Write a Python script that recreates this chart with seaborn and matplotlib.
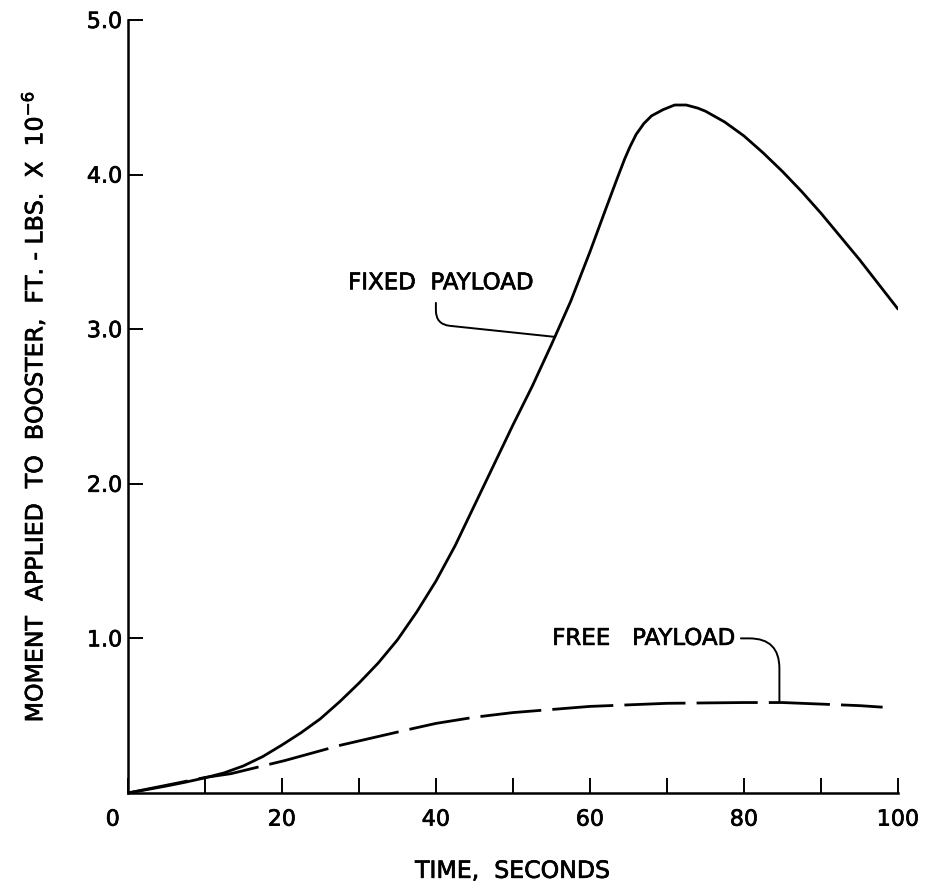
import matplotlib
matplotlib.use("Agg")
import matplotlib.pyplot as plt
import matplotlib.patheffects as pe
import matplotlib.transforms as mtransforms
import seaborn as sns
import pandas as pd

# ---- data ----
fixed_t = [0, 2.5, 5, 7.5, 10, 12.5, 15, 17.5, 20, 22.5, 25, 27.5, 30, 32.5, 35, 37.5,
           40, 42.5, 45, 47.5, 50, 52.5, 55, 57.5, 60, 62, 63.5, 64.5, 65.2, 66, 67, 68,
           69.5, 71, 72.5, 74, 75, 77.5, 80, 82.5, 85, 87.5, 90, 92.5, 95, 97.5, 100]
fixed_m = [0.0, 0.022, 0.045, 0.07, 0.098, 0.13, 0.175, 0.235, 0.31, 0.39, 0.48, 0.59,
           0.71, 0.84, 0.99, 1.17, 1.37, 1.60, 1.86, 2.12, 2.38, 2.63, 2.90, 3.18, 3.50,
           3.77, 3.97, 4.10, 4.18, 4.26, 4.33, 4.38, 4.42, 4.45, 4.45, 4.43, 4.41, 4.34,
           4.25, 4.14, 4.02, 3.89, 3.75, 3.60, 3.45, 3.29, 3.13]

free_t = [0, 5, 10, 13.4, 20.4, 27.7, 36.4, 40, 45, 50, 55, 60, 70, 80, 85, 90, 95, 98]
free_m = [0.0, 0.05, 0.10, 0.125, 0.21, 0.31, 0.41, 0.45, 0.49, 0.52, 0.54, 0.56, 0.58,
          0.585, 0.585, 0.575, 0.565, 0.555]

x_ticks = [0, 10, 20, 30, 40, 50, 60, 70, 80, 90, 100]
x_ticklabels = ["0", "", "20", "", "40", "", "60", "", "80", "", "100"]
y_ticks = [1.0, 2.0, 3.0, 4.0, 5.0]
y_ticklabels = ["1.0", "2.0", "3.0", "4.0", "5.0"]

x_label = "TIME,  SECONDS"
y_label = "MOMENT  APPLIED  TO  BOOSTER,  FT. - LBS.  X  10$^{-6}$"
fixed_label = "FIXED  PAYLOAD"
free_label = "FREE   PAYLOAD"

sns.set_style("ticks")
plt.rcParams["font.family"] = ["DejaVu Sans"]
plt.rcParams["mathtext.default"] = "regular"
plt.rcParams["text.color"] = "black"
plt.rcParams["axes.labelcolor"] = "black"

thick = [pe.withStroke(linewidth=0.5, foreground="black")]

fig = plt.figure(figsize=(9.33, 8.88), dpi=100)
ax = fig.add_axes([0.137, 0.107, 0.8255, 0.8705])

fixed_df = pd.DataFrame({"t": fixed_t, "m": fixed_m})
free_df = pd.DataFrame({"t": free_t, "m": free_m})

sns.lineplot(data=free_df, x="t", y="m", ax=ax, color="black", linewidth=2.0, sort=False)
ax.lines[-1].set_dashes([22, 4])
ax.lines[-1].set_dash_capstyle("butt")
sns.lineplot(data=fixed_df, x="t", y="m", ax=ax, color="black", linewidth=2.0, sort=False)
for ln in ax.lines:
    ln.set_solid_joinstyle("round")
    ln.set_dash_joinstyle("round")

ax.set_xlim(0, 100)
ax.set_ylim(0, 5.0)
sns.despine(ax=ax)
for s in ["left", "bottom"]:
    ax.spines[s].set_linewidth(1.8)
    ax.spines[s].set_color("black")

ax.set_xticks(x_ticks)
ax.set_xticklabels(x_ticklabels)
ax.set_yticks(y_ticks)
ax.set_yticklabels(y_ticklabels)
ax.tick_params(axis="x", direction="in", length=11, width=1.4, pad=12,
               labelsize=16, colors="black")
ax.tick_params(axis="y", direction="in", length=11, width=1.4, pad=4,
               labelsize=16, colors="black")
for lbl in ax.get_xticklabels() + ax.get_yticklabels():
    lbl.set_path_effects(thick)
zero_lbl = ax.get_xticklabels()[0]
zero_lbl.set_transform(zero_lbl.get_transform() +
                       mtransforms.ScaledTranslation(-0.15, 0, fig.dpi_scale_trans))

ax.set_xlabel(x_label, fontsize=17, labelpad=21, path_effects=thick)
ax.set_ylabel(y_label, fontsize=17, labelpad=28, path_effects=thick)

# annotations
ax.text(28.6, 3.30, fixed_label, fontsize=16.5, ha="left", va="center", path_effects=thick)
ax.annotate("", xy=(55.5, 2.95), xytext=(40.0, 3.17),
            arrowprops=dict(arrowstyle="-", color="black", lw=1.4,
                            connectionstyle="angle,angleA=90,angleB=-6,rad=14",
                            shrinkA=0, shrinkB=0))
ax.text(55.1, 1.0, free_label, fontsize=16.5, ha="left", va="center", path_effects=thick)
ax.annotate("", xy=(84.6, 0.59), xytext=(79.6, 1.0),
            arrowprops=dict(arrowstyle="-", color="black", lw=1.4,
                            connectionstyle="angle,angleA=0,angleB=90,rad=30",
                            shrinkA=0, shrinkB=0))

fig.savefig("out.png", dpi=100, facecolor="white")
